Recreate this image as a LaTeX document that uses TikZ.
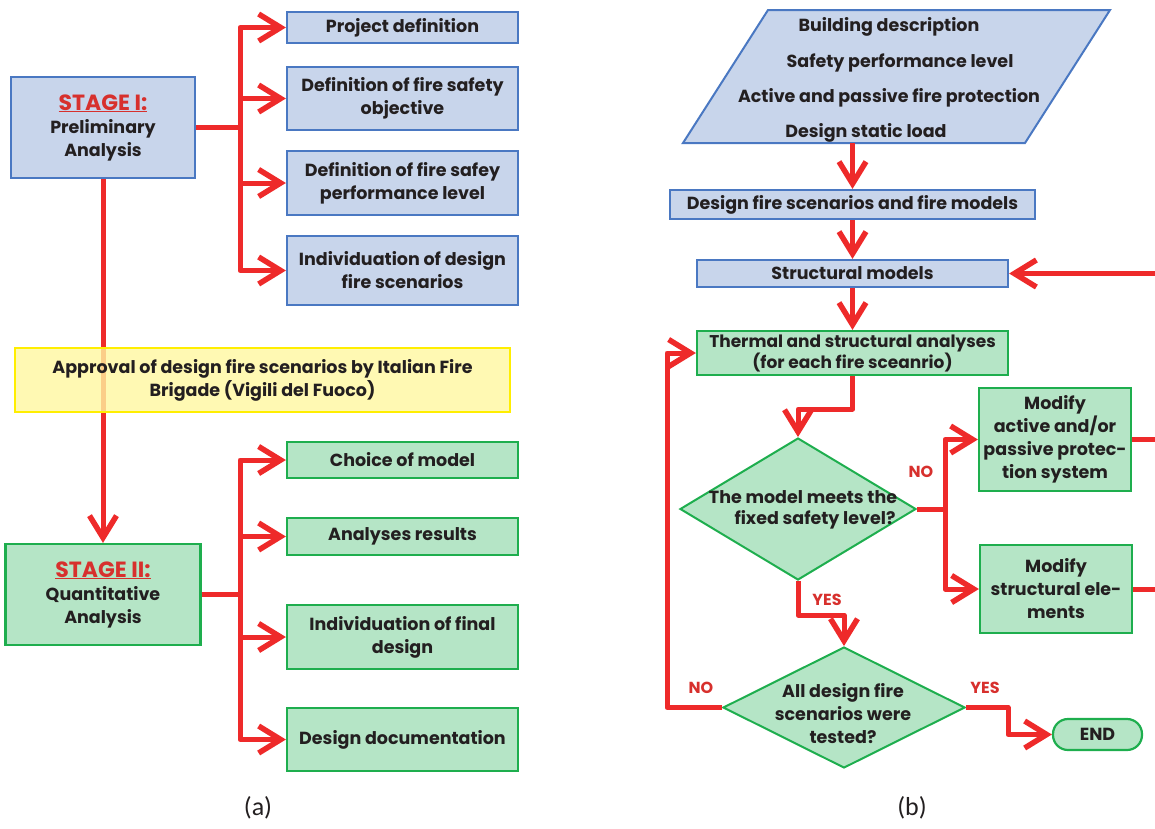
\documentclass[tikz,border=0pt]{standalone}
\usepackage{fontspec}
\setmainfont{Poppins}
\newfontfamily\capfont{Carlito}
\usetikzlibrary{arrows.meta,shapes.geometric,calc}
\definecolor{rd}{HTML}{EE2A2A}
\definecolor{bfill}{HTML}{C8D5EB}
\definecolor{bdraw}{HTML}{4A78C2}
\definecolor{gfill}{HTML}{B5E5C6}
\definecolor{gdraw}{HTML}{1EAE4E}
\definecolor{yfill}{HTML}{FFF7A0}
\definecolor{ydraw}{HTML}{FFEE00}
\definecolor{txt}{HTML}{231F20}
\definecolor{lab}{HTML}{D7302D}
\newcommand\stgtext[1]{{\color{lab}\fontsize{22}{26}\selectfont\bfseries\underline{#1}}}
\tikzset{
  tx/.style={text=txt, font=\fontsize{17.5}{23}\selectfont\bfseries, align=center},
  bbox/.style={tx, draw=bdraw, fill=bfill, line width=2.2pt, inner sep=0pt},
  gbox/.style={tx, draw=gdraw, fill=gfill, line width=2.2pt, inner sep=0pt},
  ybox/.style={tx, draw=ydraw, fill=yfill, fill opacity=0.8, text opacity=1, line width=2.2pt, inner sep=0pt},
  ln/.style={draw=rd, line width=5pt, line join=round},
  arr/.style={ln, -{Straight Barb[length=22pt,width=27pt,line width=5.5pt]}},
  lbl/.style={text=lab, font=\fontsize{16}{18}\selectfont\bfseries},
  captxt/.style={font=\capfont\fontsize{26}{28}\selectfont, text=txt}
}
\begin{document}
\begin{tikzpicture}[x=1pt,y=-1pt]
\useasboundingbox (0,0) rectangle (1155,828);
% ---------- panel (a) ----------
\node[bbox, minimum width=184, minimum height=101] (s1) at (103,127.5)
  {\stgtext{STAGE I:}\\Preliminary\\Analysis};
\node[bbox, minimum width=231, minimum height=31] (p1) at (402.5,27.5) {Project definition};
\node[bbox, minimum width=231, minimum height=63] (p2) at (402.5,98.5) {Definition of fire safety\\objective};
\node[bbox, minimum width=231, minimum height=64] (p3) at (402.5,183) {Definition of fire safey\\performance level};
\node[bbox, minimum width=231, minimum height=69] (p4) at (402.5,270.5) {Individuation of design\\fire scenarios};
\node[gbox, minimum width=195, minimum height=101] (s2) at (103,594.5)
  {\stgtext{STAGE II:}\\Quantitative\\Analysis};
\node[gbox, minimum width=231, minimum height=36] (q1) at (402.5,460) {Choice of model};
\node[gbox, minimum width=231, minimum height=37] (q2) at (402.5,536.5) {Analyses results};
\node[gbox, minimum width=231, minimum height=64] (q3) at (402.5,637) {Individuation of final\\design};
\node[gbox, minimum width=231, minimum height=63] (q4) at (402.5,739.5) {Design documentation};
\coordinate (j1) at (240,127.5);
\coordinate (j2) at (240,594.5);
\foreach \t in {p1,p2,p3,p4} \draw[arr] (s1.east) -- (j1) |- (\t.west);
\foreach \t in {q1,q2,q3,q4} \draw[arr] (s2.east) -- (j2) |- (\t.west);
\draw[arr] (s1.south) -- (s2.north);
\node[ybox, minimum width=495, minimum height=64] (ap) at (262.5,380)
  {Approval of design fire scenarios by Italian Fire\\Brigade (Vigili del Fuoco)};
\node[captxt] (ca) at (258,808) {(a)};
% ---------- panel (b) ----------
\draw[draw=bdraw, fill=bfill, line width=2pt] (768,10) -- (1110,10) -- (1025,143) -- (683,143) -- cycle;
\node[tx] (in1) at (889,27) {Building description};
\node[tx] (in2) at (900,63) {Safety performance level};
\node[tx] (in3) at (889,98) {Active and passive fire protection};
\node[tx] (in4) at (866,133) {Design static load};
\coordinate (inb) at (852.5,143);
\node[bbox, minimum width=365, minimum height=29] (dfs) at (852.5,204.5) {Design fire scenarios and fire models};
\node[bbox, minimum width=311, minimum height=27] (sm) at (852.5,273.5) {Structural models};
\node[gbox, minimum width=311, minimum height=44, font=\fontsize{17}{18}\selectfont\bfseries] (tsa) at (852.5,353)
  {Thermal and structural analyses\\(for each fire sceanrio)};
\node[diamond, draw=gdraw, fill=gfill, line width=2pt, minimum width=236, minimum height=142, inner sep=0pt] (d1) at (798,509) {};
\node[tx, font=\fontsize{17.5}{21}\selectfont\bfseries] (d1t) at (803,510) {The model meets the\\\hspace*{24pt}fixed safety level?};
\node[gbox, minimum width=152, minimum height=103] (m1) at (1055,439.5) {Modify\\active and/or\\passive protec-\\tion system};
\node[gbox, minimum width=152, minimum height=88] (m2) at (1056,589) {Modify\\structural ele-\\ments};
\node[diamond, draw=gdraw, fill=gfill, line width=2pt, minimum width=242, minimum height=121, inner sep=0pt] (d2) at (844,707.5) {};
\node[tx, font=\fontsize{17.5}{23}\selectfont\bfseries] (d2t) at (843,714) {All design fire\\scenarios were\\tested?};
\node[gbox, rounded corners=15pt, minimum width=89, minimum height=31] (end) at (1097.5,734.5) {END};
\coordinate (rin) at (1155,273.5);
\coordinate (r1) at (1155,439.5);
\coordinate (r2) at (1155,589);
\coordinate (j3) at (945,509);
\draw[arr] (inb) -- (dfs.north);
\draw[arr] (dfs.south) -- (sm.north);
\draw[arr] (rin) -- (sm.east);
\draw[arr] (sm.south) -- (tsa.north);
\draw[arr] (tsa.south) -- ($(tsa.south)+(0,33)$) -| (d1.north);
\draw[arr] (d1.east) -- (j3) |- (m1.west);
\draw[arr] (d1.east) -- (j3) |- (m2.west);
\draw[ln] (m1.east) -- (r1);
\draw[ln] (m2.east) -- (r2);
\draw[arr] (d1.south) -- ($(d1.south)+(0,34)$) -| (d2.north);
\draw[arr] (d2.west) -- (667,707.5) |- (tsa.west);
\draw[arr] (d2.east) -- (1008,707.5) |- (end.west);
\node[lbl] (no1) at (921,472) {NO};
\node[lbl] (yes1) at (827,600) {YES};
\node[lbl] (no2) at (701,688) {NO};
\node[lbl] (yes2) at (985,688) {YES};
\node[captxt] (cb) at (912,808) {(b)};
\end{tikzpicture}
\end{document}
